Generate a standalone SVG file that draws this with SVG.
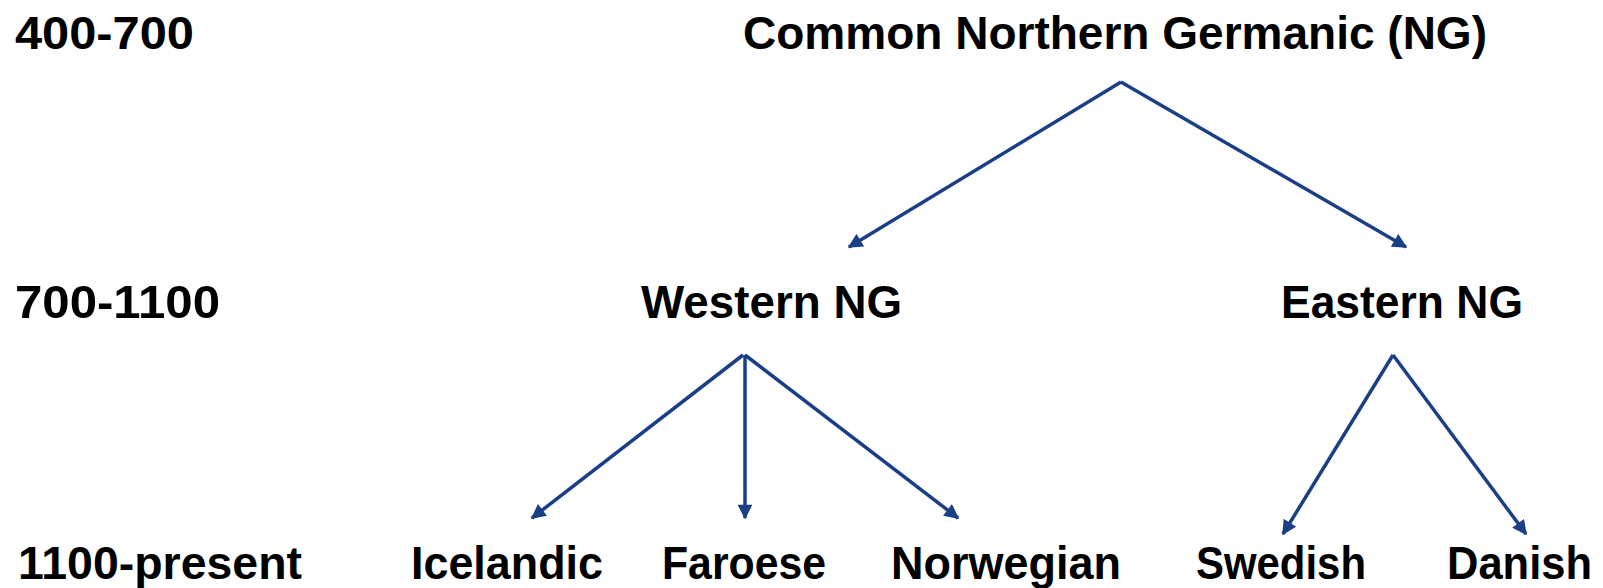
<svg xmlns="http://www.w3.org/2000/svg" width="1603" height="588" viewBox="0 0 1603 588">
<style>
text{font-family:"Liberation Sans",Arial,sans-serif;font-weight:bold;font-size:47px;fill:#000}
.c{stroke:#1B3F86;stroke-width:3.5;fill:none;marker-end:url(#ah)}
</style>
<defs>
<marker id="ah" viewBox="0 0 10 10" refX="9" refY="5" markerWidth="4.6" markerHeight="4.2" orient="auto" markerUnits="strokeWidth">
<path d="M0,0 L10,5 L0,10 z" fill="#1B3F86"/>
</marker>
</defs>
<rect width="1603" height="588" fill="#fff"/>
<g id="labels">
<text id="t1" x="15" y="49" textLength="179" lengthAdjust="spacingAndGlyphs">400-700</text>
<text id="t2" x="15" y="318" textLength="205" lengthAdjust="spacingAndGlyphs">700-1100</text>
<text id="t3" x="18" y="579" textLength="284" lengthAdjust="spacingAndGlyphs">1100-present</text>
</g>
<g id="n-common"><text x="743" y="49" textLength="744" lengthAdjust="spacingAndGlyphs">Common Northern Germanic (NG)</text></g>
<g id="n-western"><text x="641" y="318" textLength="261" lengthAdjust="spacingAndGlyphs">Western NG</text></g>
<g id="n-eastern"><text x="1281" y="318" textLength="242" lengthAdjust="spacingAndGlyphs">Eastern NG</text></g>
<g id="n-icelandic"><text x="411" y="579" textLength="192" lengthAdjust="spacingAndGlyphs">Icelandic</text></g>
<g id="n-faroese"><text x="662" y="579" textLength="164" lengthAdjust="spacingAndGlyphs">Faroese</text></g>
<g id="n-norwegian"><text x="891" y="579" textLength="230" lengthAdjust="spacingAndGlyphs">Norwegian</text></g>
<g id="n-swedish"><text x="1196" y="579" textLength="170" lengthAdjust="spacingAndGlyphs">Swedish</text></g>
<g id="n-danish"><text x="1447" y="579" style="font-size:46px" textLength="145" lengthAdjust="spacingAndGlyphs">Danish</text></g>
<g id="connectors">
<line class="c" x1="1121" y1="82" x2="849" y2="247"/>
<line class="c" x1="1121" y1="82" x2="1406" y2="247"/>
<line class="c" x1="743" y1="355" x2="532" y2="518"/>
<line class="c" x1="745" y1="355" x2="745" y2="518"/>
<line class="c" x1="745" y1="355" x2="958" y2="518"/>
<line class="c" x1="1393" y1="355" x2="1283" y2="534"/>
<line class="c" x1="1393" y1="355" x2="1526" y2="534"/>
</g>
</svg>
